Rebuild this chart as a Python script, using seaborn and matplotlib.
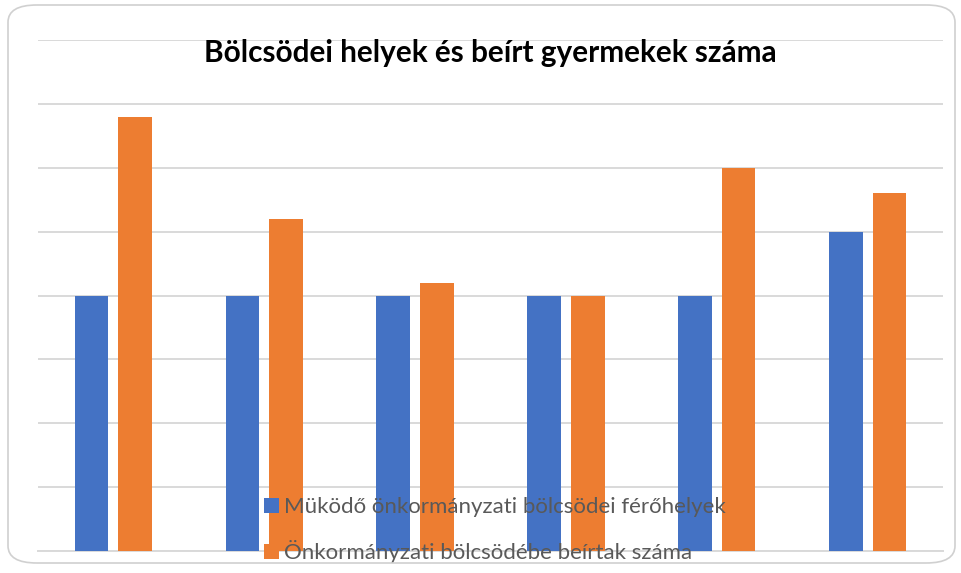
import matplotlib
matplotlib.use("Agg")
import matplotlib.pyplot as plt
import pandas as pd
import seaborn as sns
from matplotlib.patches import FancyBboxPatch

# Chart data (no axis labels in the original)
groups = ["1", "2", "3", "4", "5", "6"]
ferohelyek = [20, 20, 20, 20, 20, 25]
beirtak = [34, 26, 21, 20, 30, 28]
series_names = ["Müködő önkormányzati bölcsödei férőhelyek",
                "Önkormányzati bölcsödébe beírtak száma"]

df = pd.DataFrame({
    "group": groups * 2,
    "value": ferohelyek + beirtak,
    "series": [series_names[0]] * len(groups) + [series_names[1]] * len(groups),
})

sns.set_style("white")
plt.rcParams["font.family"] = ["Lato", "DejaVu Sans"]

fig = plt.figure(figsize=(9.62, 5.73), dpi=100)
ax = fig.add_axes([38 / 962, 22 / 573, 905 / 962, 511 / 573])

# light rounded frame around the whole chart
fig.patches.append(FancyBboxPatch((8 / 962, 10 / 573), 947 / 962, 558 / 573,
                                  boxstyle="round,pad=0,rounding_size=0.03",
                                  transform=fig.transFigure, fill=False,
                                  edgecolor="#d0d0d0", linewidth=1.2))

sns.barplot(data=df, x="group", y="value", hue="series",
            palette=["#4472C4", "#ED7D31"], width=0.58, gap=0.23,
            saturation=1, linewidth=0, ax=ax, zorder=3)

ax.set_ylim(0, 40)
ax.yaxis.grid(True, color="#d9d9d9", linewidth=1.4, zorder=0)
ax.set_axisbelow(True)
for s in ["left", "right", "top"]:
    ax.spines[s].set_visible(False)
ax.spines["bottom"].set_color("#d9d9d9")
ax.spines["bottom"].set_linewidth(1.4)
ax.set_xticks([])
ax.set_yticks(range(0, 41, 5), labels=[])
ax.tick_params(left=False, bottom=False)
ax.set_xlabel("")
ax.set_ylabel("")

fig.text(490 / 962, 1 - 53 / 573, "Bölcsödei helyek és beírt gyermekek száma",
         ha="center", va="center", fontsize=21.4, fontweight="bold", color="black")

leg = ax.legend(loc="upper left", bbox_to_anchor=(253 / 962, 1 - 486 / 573),
                bbox_transform=fig.transFigure, frameon=False, fontsize=16,
                handlelength=0.65, handleheight=0.65, handletextpad=0.25,
                labelspacing=1.05, labelcolor="#595959", borderpad=0)
for h in leg.legend_handles:
    h.set_linewidth(0)

fig.savefig("out.png", dpi=100)
